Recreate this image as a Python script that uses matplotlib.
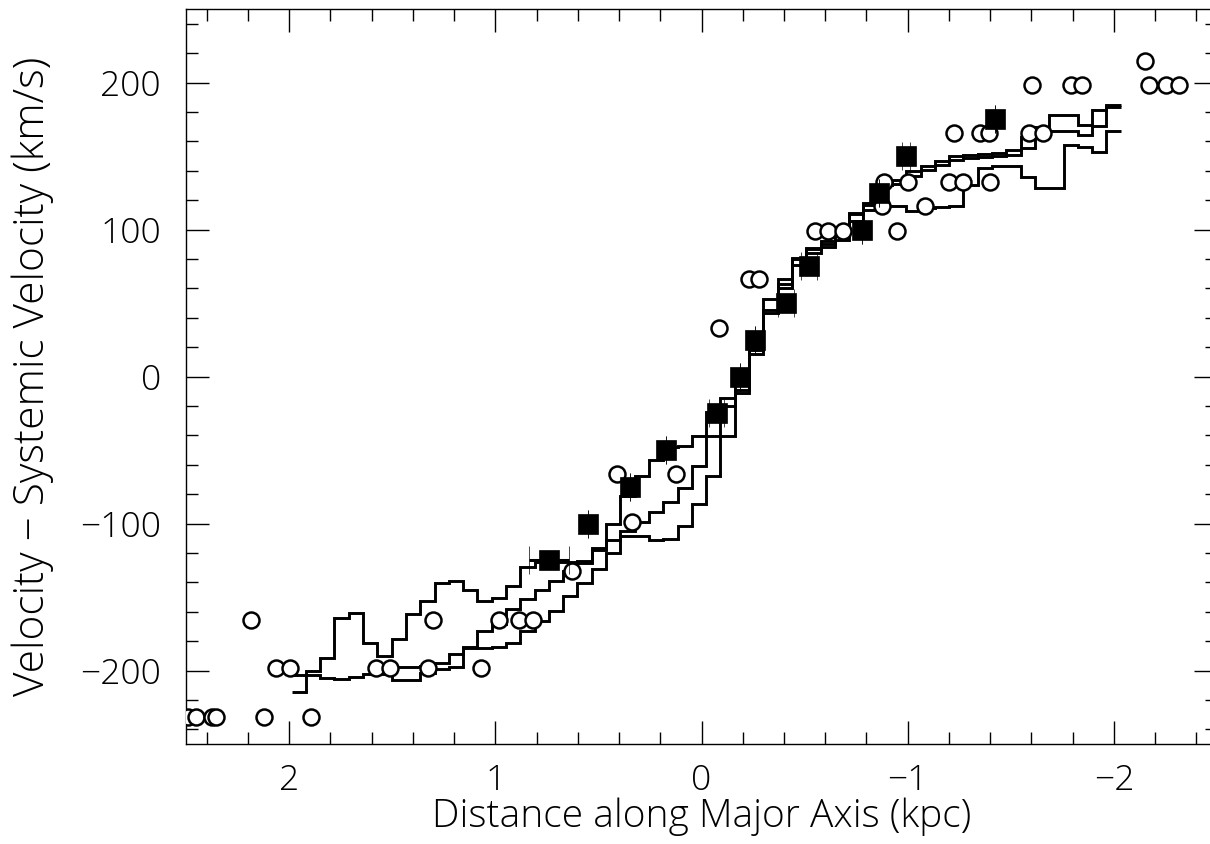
import numpy as np
import matplotlib.pyplot as plt
from matplotlib.ticker import MultipleLocator

plt.rcParams['font.family'] = ['Open Sans', 'DejaVu Sans']
plt.rcParams['font.weight'] = 'light'
plt.rcParams['axes.labelweight'] = 'light'
plt.rcParams['font.size'] = 25.5

# bin centres of the position-velocity traces (kpc)
bin_x = [1.953, 1.884, 1.815, 1.745, 1.676, 1.607, 1.537, 1.468, 1.399, 1.329,
         1.260, 1.191, 1.121, 1.052, 0.983, 0.913, 0.844, 0.775, 0.705, 0.636,
         0.567, 0.497, 0.428, 0.359, 0.289, 0.220, 0.151, 0.081, 0.012, -0.057,
         -0.127, -0.196, -0.265, -0.335, -0.404, -0.473, -0.543, -0.612, -0.681, -0.751,
         -0.820, -0.889, -0.959, -1.028, -1.097, -1.167, -1.236, -1.305, -1.375, -1.444,
         -1.513, -1.583, -1.652, -1.721, -1.791, -1.860, -1.929, -1.999]

# trace 1 (the one with the bump near +1.8 kpc)
vel_a = [-214.5, -200.5, -191.4, -164.1, -161.2, -181.6, -190.3, -178.9, -161.9, -152.9,
         -140.5, -139.3, -144.9, -152.9, -150.5, -142.2, -129.5, -126, -126, -126.5,
         -125.6, -116.5, -100.5, -81.5, -67.8, -56.5, -48, -47.4, -40.6, -24,
         -14.5, -6, 21, 52.4, 66, 80.7, 87.5, 92, 96.6, 111.4,
         118.2, 131.8, 134, 139.7, 143, 146.5, 149.9, 151, 151.5, 152.2,
         154.4, 163, 170, 178, 178, 171, 181, 184.4]

# trace 2 starts at the 7th bin
start_b = 6
vel_b = [-199.3, -197.5, -197.5, -197, -194.8, -189.1, -184.6, -173.2, -168.7, -158.5,
         -151.7, -144.9, -139, -132, -126.7, -118, -111, -105, -99.1, -92.3,
         -85.5, -75.7, -61, -40.6, -20.2, -9, 18, 45, 62.6, 79.6,
         86.4, 90, 95.4, 110.5, 117, 130, 131, 136.3, 140.8, 144.2,
         147.6, 148.8, 149.2, 150.3, 151, 155.6, 165, 167, 167, 164.6,
         170.3, 183.5]

# trace 3
vel_c = [-203.4, -203, -205, -206, -204.3, -202.5, -202.5, -206.5, -206.5, -201.6,
         -199.3, -197.5, -184, -184.6, -184, -181.2, -173.2, -166.4, -159.7, -149.4,
         -140.4, -131, -120, -108.6, -108.3, -111.3, -110.5, -101.8, -87, -67.8,
         -40.6, -11, 15, 43.3, 60, 76, 84, 88, 93, 106,
         113.6, 115.9, 115.9, 112.4, 114.7, 115.4, 115.9, 130, 142, 143,
         143.5, 135.5, 128.3, 128.3, 157.5, 156, 153, 166.7]

# filled squares with horizontal error bars
sq_x = [0.740, 0.550, 0.345, 0.170, -0.073, -0.185, -0.258, -0.409, -0.521, -0.779,
        -0.861, -0.993, -1.421]
sq_v = [-125, -100, -75, -50, -25, 0, 25, 50, 75, 100, 125, 150, 175]
sq_xerr = [0.095, 0, 0, 0, 0.037, 0, 0, 0.039, 0.039, 0, 0, 0.02, 0]

# open circles
circ_x = [2.49, 2.453, 2.375, 2.355, 2.122, 1.893,
          2.063, 1.995, 1.578, 1.513, 1.325, 1.071,
          2.185, 1.304, 0.984, 0.886, 0.818,
          0.628, 0.336, 0.409, 0.122, -0.083, -0.229, -0.277,
          -0.550, -0.613, -0.686, -0.949, -0.876, -1.085,
          -0.886, -1.002, -1.202, -1.270, -1.401,
          -1.223, -1.353, -1.393, -1.590, -1.658,
          -1.601, -1.791, -1.844, -2.169, -2.253, -2.318, -2.149]
circ_v = [-231.5, -231.5, -231.5, -231.5, -231.5, -231.5,
          -198.4, -198.4, -198.4, -198.4, -198.4, -198.4,
          -165.4, -165.4, -165.4, -165.4, -165.4,
          -132.3, -99.2, -66.1, -66.1, 33.1, 66.1, 66.1,
          99.2, 99.2, 99.2, 99.2, 115.7, 115.7,
          132.3, 132.3, 132.3, 132.3, 132.3,
          165.4, 165.4, 165.4, 165.4, 165.4,
          198.4, 198.4, 198.4, 198.4, 198.4, 198.4, 214.9]


def edges_from_centres(c):
    c = np.asarray(c)
    mids = (c[:-1] + c[1:]) / 2
    first = c[0] + (c[0] - c[1]) / 2
    last = c[-1] - (c[-2] - c[-1]) / 2
    return np.concatenate([[first], mids, [last]])


edges = edges_from_centres(bin_x)

fig = plt.figure(figsize=(12.1, 8.44), dpi=100)
ax = fig.add_axes([186 / 1210, 100 / 844, 1031 / 1210, 735 / 844])

ax.stairs(vel_a, edges[:len(vel_a) + 1], baseline=None, color='black', lw=2.1)
ax.stairs(vel_b, edges[start_b:start_b + len(vel_b) + 1], baseline=None, color='black', lw=2.1)
ax.stairs(vel_c, edges[:len(vel_c) + 1], baseline=None, color='black', lw=2.1)

ax.plot(circ_x, circ_v, 'o', mfc='white', mec='black', ms=11.5, mew=1.8, zorder=3)

ax.errorbar(sq_x, sq_v, xerr=sq_xerr, fmt='s', color='black', ms=14, mew=0.5,
            elinewidth=2.2, capsize=10, capthick=2.4, zorder=4)

ax.set_xlim(2.5, -2.5)
ax.set_ylim(-250, 250)
ax.xaxis.set_major_locator(MultipleLocator(1))
ax.xaxis.set_minor_locator(MultipleLocator(0.2))
ax.yaxis.set_major_locator(MultipleLocator(100))
ax.yaxis.set_minor_locator(MultipleLocator(20))
ax.tick_params(which='both', direction='in', top=True, right=True, width=1.0)
ax.tick_params(which='major', length=16.5)
ax.tick_params(axis='y', which='major', pad=18)
ax.tick_params(axis='x', which='major', pad=14)
ax.tick_params(which='minor', length=8.6)
for s in ax.spines.values():
    s.set_linewidth(1.0)

ax.set_xlabel('Distance along Major Axis (kpc)', fontsize=28, labelpad=0)
ax.set_ylabel('Velocity \u2212 Systemic Velocity (km/s)', fontsize=30.5, labelpad=19)

fig.savefig('out.png', dpi=100)
